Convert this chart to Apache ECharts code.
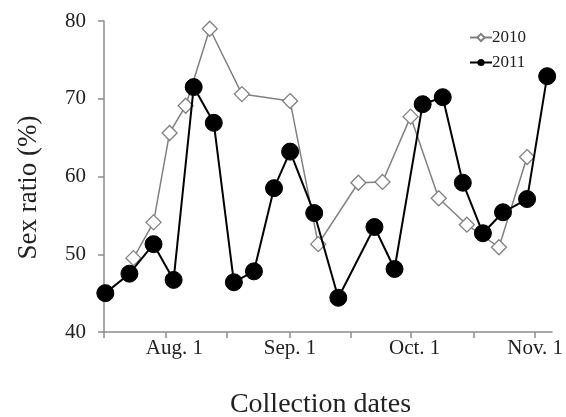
<!DOCTYPE html>
<html>
<head>
<meta charset="utf-8">
<script src="https://cdn.jsdelivr.net/npm/echarts@6/dist/echarts.min.js"></script>
<style>
  html, body { margin: 0; padding: 0; background: #fff; }
  #chart { width: 566px; height: 417px; }
</style>
</head>
<body>
<div id="chart"></div>
<script>
// collection dates as days after Aug. 1 (negative = July)
var days2010 = [-8, -3, 1, 5, 11, 19, 31, 38, 48, 54, 61, 68, 75, 83, 90];
var ratio2010 = [49.5, 54.1, 65.6, 69.1, 79.0, 70.6, 69.7, 51.3, 59.2, 59.3, 67.7, 57.2, 53.8, 50.9, 62.5];

var days2011 = [-15, -9, -3, 2, 7, 12, 17, 22, 27, 31, 37, 43, 52, 57, 64, 69, 74, 79, 84, 90, 95];
var ratio2011 = [45.0, 47.5, 51.3, 46.7, 71.5, 66.9, 46.4, 47.8, 58.5, 63.2, 55.3, 44.4, 53.5, 48.1, 69.3, 70.2, 59.2, 52.7, 55.4, 57.1, 72.9];

// axis labels (label spots as placed in the original figure)
var labelDays = [2.2, 31, 62, 92];
var monthLabels = ['Aug. 1', 'Sep. 1', 'Oct. 1', 'Nov. 1'];
var tickDays = [-15.33, 0, 15.33, 31, 46, 61, 76.67, 92];

function pairs(xs, ys) {
  return xs.map(function (x, i) { return [x, ys[i]]; });
}

var font = 'Liberation Serif';
var axisGray = '#8c8c8c';

var chart = echarts.init(document.getElementById('chart'), null, { renderer: 'canvas' });
var option = {
  animation: false,
  grid: { left: 104, right: 14, top: 21, bottom: 85, outerBoundsMode: 'none', containLabel: false },
  legend: {
    orient: 'vertical',
    left: 464,
    top: 24,
    itemWidth: 22,
    itemHeight: 9,
    itemGap: 8,
    textStyle: { fontFamily: font, fontSize: 17, color: '#222', padding: [0, 0, 0, -5] },
    data: ['2010', '2011']
  },
  xAxis: {
    type: 'value',
    min: -15.33,
    max: 96.2,
    splitLine: { show: false },
    axisLine: { show: true, onZero: false, lineStyle: { color: axisGray, width: 1.5 } },
    axisTick: { show: true, length: 6, customValues: tickDays, lineStyle: { color: axisGray, width: 1.5 } },
    axisLabel: {
      customValues: labelDays,
      margin: 6,
      fontFamily: font,
      fontSize: 21,
      color: '#222',
      formatter: function (v) {
        var i = labelDays.indexOf(v);
        return i >= 0 ? monthLabels[i] : '';
      }
    },
    name: 'Collection dates',
    nameLocation: 'middle',
    nameGap: 59,
    nameTextStyle: { fontFamily: font, fontSize: 28, color: '#222', padding: [0, 15, 0, 0] }
  },
  yAxis: {
    type: 'value',
    min: 40,
    max: 80,
    interval: 10,
    splitLine: { show: false },
    axisLine: { show: true, onZero: false, lineStyle: { color: axisGray, width: 1.5 } },
    axisTick: { show: true, length: 6, lineStyle: { color: axisGray, width: 1.5 } },
    axisLabel: { margin: 18, fontFamily: font, fontSize: 21, color: '#222' },
    name: 'Sex ratio (%)',
    nameLocation: 'middle',
    nameGap: 62,
    nameTextStyle: { fontFamily: font, fontSize: 27, color: '#222', padding: [0, 22, 0, 0] }
  },
  series: [
    {
      name: '2010',
      type: 'line',
      data: pairs(days2010, ratio2010),
      symbol: 'diamond',
      symbolSize: 15,
      lineStyle: { color: '#808080', width: 1.5 },
      itemStyle: { color: '#fff', borderColor: '#808080', borderWidth: 1.3 },
      z: 2
    },
    {
      name: '2011',
      type: 'line',
      data: pairs(days2011, ratio2011),
      symbol: 'circle',
      symbolSize: 17,
      lineStyle: { color: '#000', width: 2 },
      itemStyle: { color: '#000', borderColor: '#000' },
      z: 3
    }
  ]
};
chart.setOption(option);
</script>
</body>
</html>
